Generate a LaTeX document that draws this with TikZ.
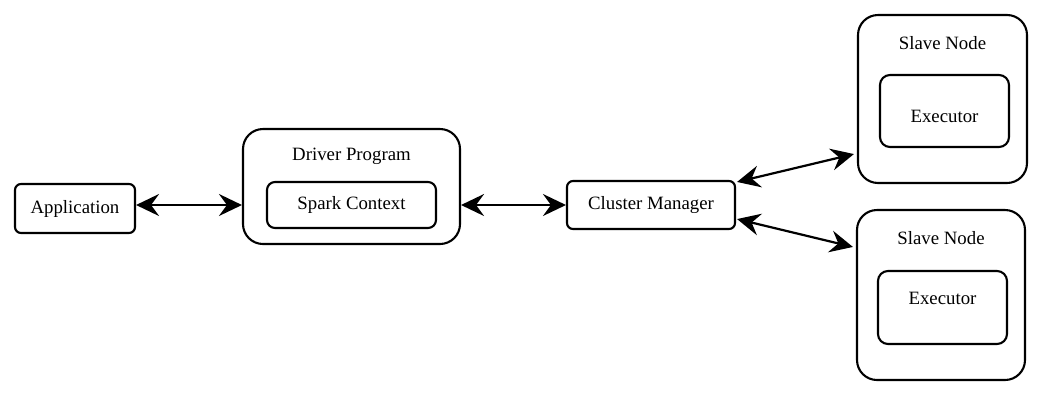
\documentclass[tikz,border=0pt]{standalone}
\usepackage{fontspec}
\setmainfont{Liberation Serif}
\usetikzlibrary{arrows.meta,calc}
\tikzset{
  box/.style={draw, line width=2.1pt, rounded corners=6pt, inner sep=0pt},
  bigbox/.style={draw, line width=2.1pt, rounded corners=20pt, inner sep=0pt},
  lbl/.style={inner sep=0pt, font=\fontsize{18.8}{22}\selectfont},
  biarrow/.style={line width=2.2pt, {Stealth[length=23pt,width=22pt,inset=8pt]}-{Stealth[length=23pt,width=22pt,inset=8pt]}}
}
\begin{document}
\begin{tikzpicture}[x=1pt,y=-1pt]
\useasboundingbox (0,0) rectangle (1041,400);
% Application
\node[box, minimum width=120pt, minimum height=49pt, lbl] (app) at (75,208.5) {Application};
% Driver program
\node[bigbox, minimum width=217pt, minimum height=115pt] (driver) at (351.5,186.5) {};
\node[lbl] (drivert) at (351.5,156) {Driver Program};
\node[box, rounded corners=8pt, minimum width=169pt, minimum height=46pt, lbl] (spark) at (351.5,205) {Spark Context};
% Cluster manager
\node[box, minimum width=168pt, minimum height=48pt, lbl] (cluster) at (651,205) {Cluster Manager};
% Slave 1
\node[bigbox, minimum width=169pt, minimum height=168pt] (s1) at (942.5,99) {};
\node[lbl] (s1t) at (942.5,43) {Slave Node};
\node[box, rounded corners=10pt, minimum width=129pt, minimum height=72pt] (e1) at (944.5,111) {};
\node[lbl] (e1t) at (944.5,116) {Executor};
% Slave 2
\node[bigbox, minimum width=168pt, minimum height=170pt] (s2) at (941,295) {};
\node[lbl] (s2t) at (941,238) {Slave Node};
\node[box, rounded corners=10pt, minimum width=129pt, minimum height=73pt] (e2) at (942.5,307.5) {};
\node[lbl] (e2t) at (942.5,298) {Executor};
% Arrows
\draw[biarrow] (app.east |- spark.center) -- (driver.west |- spark.center);
\draw[biarrow] (driver.east |- spark.center) -- (cluster.west);
\draw[biarrow] ($(cluster.north east)+(1,2)$) -- ($(s1.south west)+(-3,-30)$);
\draw[biarrow] ($(cluster.south east)+(1,-11)$) -- ($(s2.north west)+(-3,38)$);
\end{tikzpicture}
\end{document}
